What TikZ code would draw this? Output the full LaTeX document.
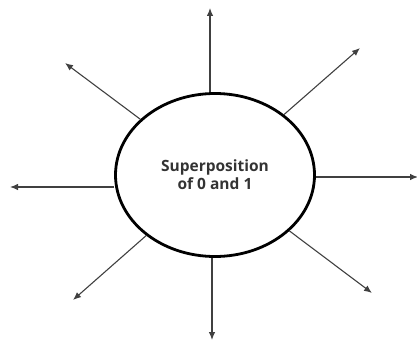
\documentclass[tikz,border=0pt]{standalone}
\usepackage{fontspec}
\setmainfont{Open Sans}
\usetikzlibrary{shapes.geometric,arrows.meta}
\begin{document}
\begin{tikzpicture}[x=1pt,y=-1pt,
  bubble/.style={ellipse,draw=black,line width=2.8pt,minimum width=199pt,minimum height=163pt,inner sep=0pt,
    font=\bfseries\fontsize{15.5}{18}\selectfont,text=black!80,align=center},
  ray/.style={draw=black!75,line width=1.1pt,-{Latex[length=8pt,width=6.5pt]}}]
\useasboundingbox (0,0) rectangle (417,345);
\node[bubble] (E) at (215,175) {Superposition\\of 0 and 1};
\coordinate (t) at (210,8);
\coordinate (b) at (212,340);
\coordinate (l) at (10,187);
\coordinate (r) at (418,177);
\coordinate (ul) at (65,63);
\coordinate (ur) at (360,48);
\coordinate (dl) at (73,300);
\coordinate (dr) at (372,293);
\draw[ray] (E.north -| t) -- (t);
\draw[ray] (E.south -| b) -- (b);
\draw[ray] (E.west |- l) -- (l);
\draw[ray] (E.east |- r) -- (r);
\draw[ray] (E) -- (ul);
\draw[ray] (E) -- (ur);
\draw[ray] (E) -- (dl);
\draw[ray] (E) -- (dr);
\end{tikzpicture}
\end{document}
